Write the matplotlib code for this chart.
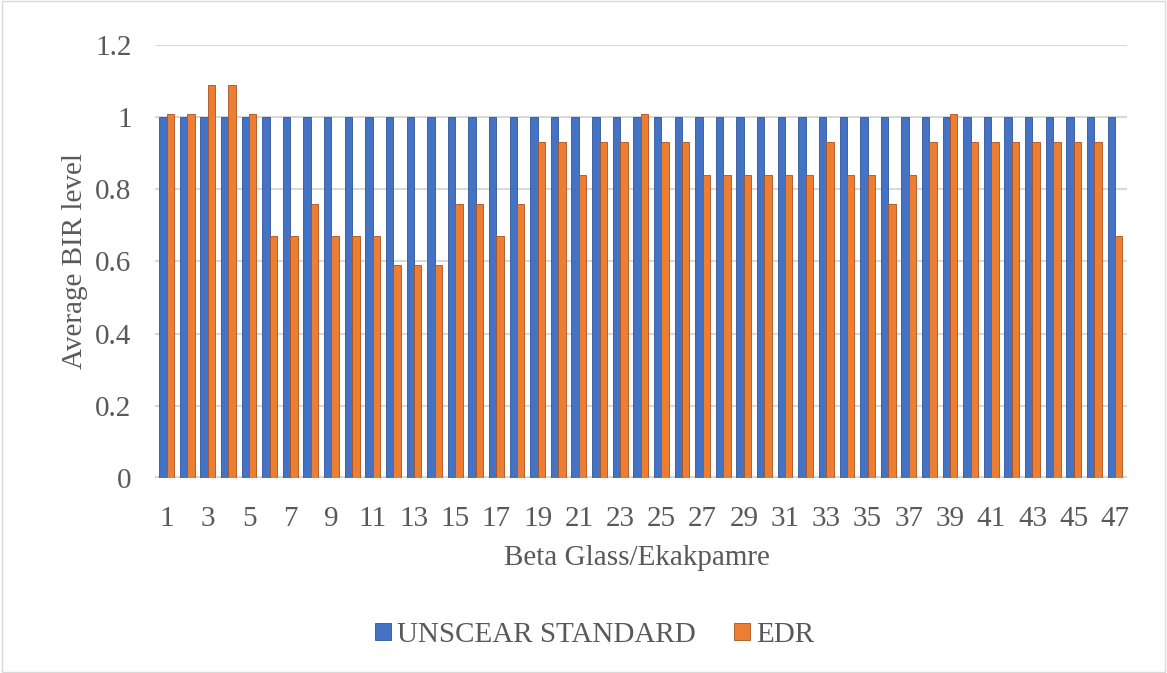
import matplotlib
matplotlib.use("Agg")
import matplotlib.pyplot as plt
import numpy as np

plt.rcParams['font.family'] = ['Liberation Serif', 'DejaVu Serif']

# data
sites = np.arange(1, 48)
unscear = [1.0] * 47
edr = [1.01, 1.01, 1.09, 1.09, 1.01, 0.67, 0.67, 0.76, 0.67, 0.67,
       0.67, 0.59, 0.59, 0.59, 0.76, 0.76, 0.67, 0.76, 0.93, 0.93,
       0.84, 0.93, 0.93, 1.01, 0.93, 0.93, 0.84, 0.84, 0.84, 0.84,
       0.84, 0.84, 0.93, 0.84, 0.84, 0.76, 0.84, 0.93, 1.01, 0.93,
       0.93, 0.93, 0.93, 0.93, 0.93, 0.93, 0.67]
xtick_labels = [str(s) for s in sites[::2]]

BLUE = '#4472C4'
ORANGE = '#ED7D31'
TXT = '#595959'
FS = 21

fig = plt.figure(figsize=(11.67, 6.73), dpi=100)
ax = fig.add_axes([0.133, 0.29, 0.833, 0.643])

w = 0.36
ax.bar(sites - w / 2, unscear, width=w, color=BLUE, edgecolor='#2F5597',
       linewidth=0.6, label='UNSCEAR STANDARD', zorder=3)
ax.bar(sites + w / 2, edr, width=w, color=ORANGE, edgecolor='#A9521F',
       linewidth=0.6, label='EDR', zorder=3)

ax.set_xlim(0.45, 47.6)
ax.set_ylim(0, 1.2)
ax.set_yticks(np.arange(0, 1.21, 0.2))
ax.set_yticklabels(['0', '0.2', '0.4', '0.6', '0.8', '1', '1.2'])
ax.set_xticks(sites[::2])
ax.set_xticklabels(xtick_labels)
ax.grid(axis='y', color='#D9D9D9', linewidth=1.5, zorder=0)
for s in ax.spines.values():
    s.set_visible(False)
ax.axhline(0, color='#D9D9D9', linewidth=3, zorder=2)
ax.tick_params(length=0, labelsize=FS, colors=TXT)
ax.tick_params(axis='x', pad=20)
ax.tick_params(axis='y', pad=17)

ax.set_xlabel('Beta Glass/Ekakpamre', fontsize=FS, color=TXT)
ax.xaxis.set_label_coords(0.496, -0.155)
ax.set_ylabel('Average BIR level', fontsize=FS, color=TXT)
ax.yaxis.set_label_coords(-0.069, 0.5)

ax.legend(loc='center', bbox_to_anchor=(0.452, -0.363), ncol=2,
          frameon=False, fontsize=FS, labelcolor=TXT, handlelength=0.55,
          handleheight=0.55, handletextpad=0.2, columnspacing=1.3)

fig.patches.append(plt.Rectangle((0.002, 0.002), 0.996, 0.996, fill=False,
                                 edgecolor='#D9D9D9', linewidth=1,
                                 transform=fig.transFigure))

fig.savefig('out.png', dpi=100)
